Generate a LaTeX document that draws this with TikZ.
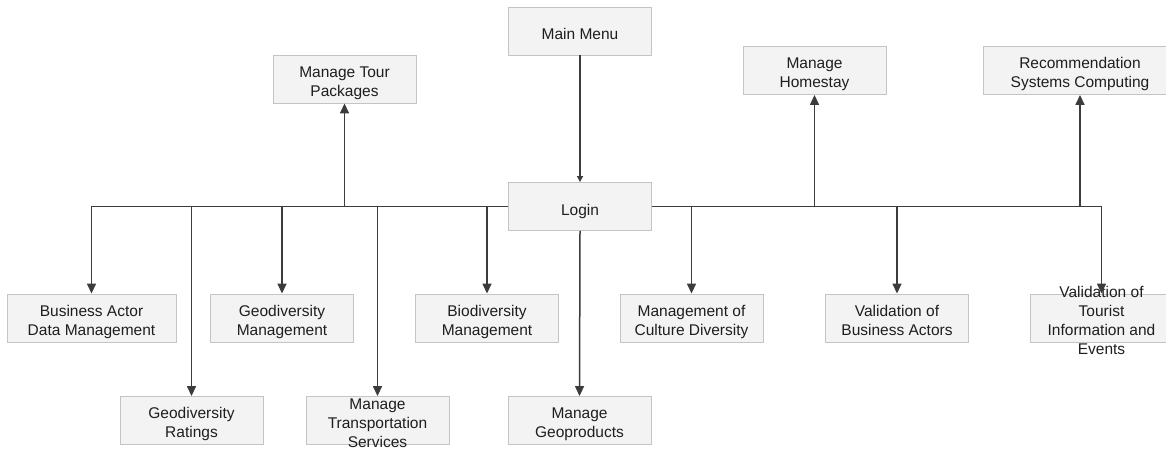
\documentclass[tikz,border=0pt]{standalone}
\usepackage{fontspec}
\setmainfont{Liberation Sans}
\usetikzlibrary{arrows.meta}
\definecolor{boxfill}{HTML}{F3F3F3}
\definecolor{boxline}{HTML}{C4C4C4}
\definecolor{wire}{HTML}{3C3C3C}
\definecolor{ink}{HTML}{1E1E1E}
\newcommand{\spill}[1]{\smash{\raisebox{1pt}{\begin{tabular}{@{}c@{}}#1\end{tabular}}}}
\tikzstyle{menu}=[draw=boxline, fill=boxfill, line width=0.9pt, inner sep=0pt, minimum width=143pt, minimum height=48pt, align=center, text=ink, font=\fontsize{15.5}{19}\selectfont, execute at begin node={\rule{0pt}{23pt}}, execute at end node={\rule[-6pt]{0pt}{0pt}}]
\tikzstyle{wmenu}=[menu, minimum width=169pt]
\tikzstyle{link}=[draw=wire, line width=1.5pt, -{Triangle[length=10pt,width=9pt]}]

\begin{document}
\begin{tikzpicture}[x=1pt, y=-1pt]
        \useasboundingbox (0,0) rectangle (1166,448);
        \node[menu] (main) at (580,31) {Main Menu};
        \node[menu] (login) at (580,206.5) {Login};
        \node[menu] (tour) at (344.5,79) {\spill{Manage Tour\\Packages}};
        \node[menu] (homestay) at (814.5,70.5) {\spill{Manage\\Homestay}};
        \node[menu, minimum width=194pt] (recsys) at (1080,70.5) {\spill{Recommendation\\Systems Computing}};
        \node[wmenu] (bizdata) at (91.5,318) {\spill{Business Actor\\Data Management}};
        \node[menu] (geomgmt) at (282,318) {\spill{Geodiversity\\Management}};
        \node[menu] (biomgmt) at (487,318) {\spill{Biodiversity\\Management}};
        \node[menu] (culture) at (691.5,318) {\spill{Management of\\Culture Diversity}};
        \node[menu] (valbiz) at (897,318) {\spill{Validation of\\Business Actors}};
        \node[menu] (valtour) at (1101.5,318) {\spill{Validation of\\Tourist\\Information and\\Events}};
        \node[menu] (georate) at (191.5,420.5) {\spill{Geodiversity\\Ratings}};
        \node[menu] (transport) at (377.5,420.5) {\spill{Manage\\Transportation\\Services}};
        \node[menu] (geoprod) at (579.5,420.5) {\spill{Manage\\Geoproducts}};
        \draw[link, -{Triangle[length=6pt,width=6pt]}] (main.south) -- (login.north);
        \draw[link] (login.west) -| (bizdata.north);
        \draw[link] (login.west) -| (georate.north);
        \draw[link] (login.west) -| (geomgmt.north);
        \draw[link] (login.west) -| (tour.south);
        \draw[link] (login.west) -| (transport.north);
        \draw[link] (login.west) -| (biomgmt.north);
        \draw[link] (login.south) -- (geoprod.north);
        \draw[link] (login.east) -| (culture.north);
        \draw[link] (login.east) -| (homestay.south);
        \draw[link] (login.east) -| (valbiz.north);
        \draw[link] (login.east) -| (recsys.south);
        \draw[link] (login.east) -| (valtour.north);
    \end{tikzpicture}
\end{document}
